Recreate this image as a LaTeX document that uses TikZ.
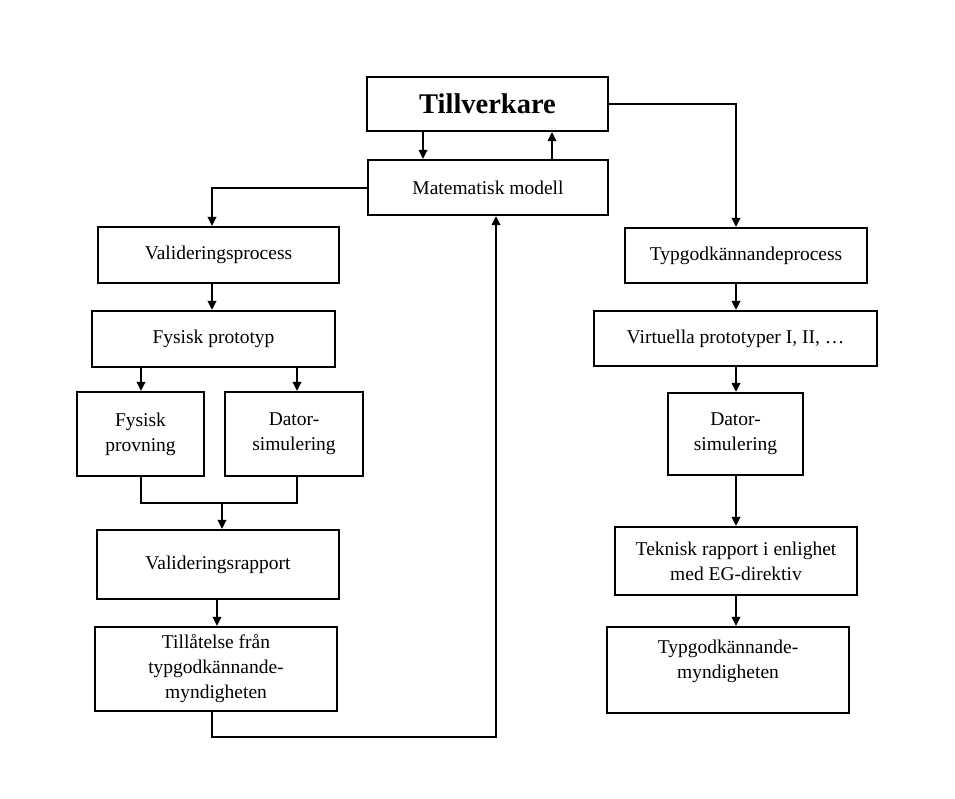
\documentclass[tikz,border=0pt]{standalone}
\usepackage{fontspec}
\setmainfont{Liberation Serif}
\usetikzlibrary{arrows.meta}
\begin{document}
\begin{tikzpicture}[x=1pt,y=-1pt,
  box/.style={draw,line width=2.2pt,rectangle,inner sep=0pt,align=center,
    font=\fontsize{19.5}{25}\selectfont},
  arr/.style={line width=2pt,-{Triangle[length=9pt,width=8.5pt]}},
  ln/.style={line width=2pt}]
\useasboundingbox (0,0) rectangle (955,799);
\node[box,minimum width=241,minimum height=54,font=\fontsize{28.5}{30}\selectfont\bfseries] (T) at (487.5,104) {Tillverkare};
\node[box,minimum width=240,minimum height=55] (MM) at (488,187.5) {Matematisk\ modell};
\node[box,minimum width=241,minimum height=56] (VP) at (218.5,255) {Valideringsprocess};
\node[box,minimum width=243,minimum height=56] (FP) at (213.5,339) {Fysisk\ prototyp};
\node[box,minimum width=127,minimum height=84] (FPr) at (140.5,434) {Fysisk\\provning};
\node[box,minimum width=138,minimum height=84] (DSL) at (294,434) {Dator-\\simulering};
\node[box,minimum width=242,minimum height=69] (VR) at (218,564.5) {Valideringsrapport};
\node[box,minimum width=242,minimum height=84] (TF) at (216,669) {Tillåtelse\ från\\typgodkännande-\\myndigheten};
\node[box,minimum width=242,minimum height=55] (TP) at (746,255.5) {Typgodkännandeprocess};
\node[box,minimum width=283,minimum height=55] (VIR) at (735.5,338.5) {Virtuella\ prototyper\ I,\ II,\ \dots};
\node[box,minimum width=135,minimum height=82] (DSR) at (735.5,434) {Dator-\\simulering};
\node[box,minimum width=242,minimum height=68] (TR) at (736,561) {Teknisk\ rapport\ i\ enlighet\\med\ EG-direktiv};
\node[box,minimum width=242,minimum height=86] (TM) at (728,670) {Typgodkännande-\\myndigheten\\[-10pt]\strut};
\coordinate (m) at (222,503);
\coordinate (lp) at (496,737);
\draw[arr] ([xshift=-64.5]T.south) -- ([xshift=-65]MM.north);
\draw[arr] ([xshift=64]MM.north) -- ([xshift=64.5]T.south);
\draw[arr] ([yshift=-0.5]MM.west) -| ([xshift=-6.5]VP.north);
\draw[arr] (T.east) -| ([xshift=-10]TP.north);
\draw[arr] ([xshift=-6.5]VP.south) -- ([xshift=-1.5]FP.north);
\draw[arr] ([xshift=-72.5]FP.south) -- ([xshift=0.5]FPr.north);
\draw[arr] ([xshift=83.5]FP.south) -- ([xshift=3]DSL.north);
\draw[ln] ([xshift=0.5]FPr.south) |- (m) -| ([xshift=3]DSL.south);
\draw[arr] (m) -- ([xshift=4]VR.north);
\draw[arr] ([xshift=-1]VR.south) -- ([xshift=1]TF.north);
\draw[arr] ([xshift=-4]TF.south) |- (lp) -- ([xshift=8]MM.south);
\draw[arr] ([xshift=-10]TP.south) -- ([xshift=0.5]VIR.north);
\draw[arr] ([xshift=0.5]VIR.south) -- ([xshift=0.5]DSR.north);
\draw[arr] ([xshift=0.5]DSR.south) -- (TR.north);
\draw[arr] (TR.south) -- ([xshift=8]TM.north);
\end{tikzpicture}
\end{document}
